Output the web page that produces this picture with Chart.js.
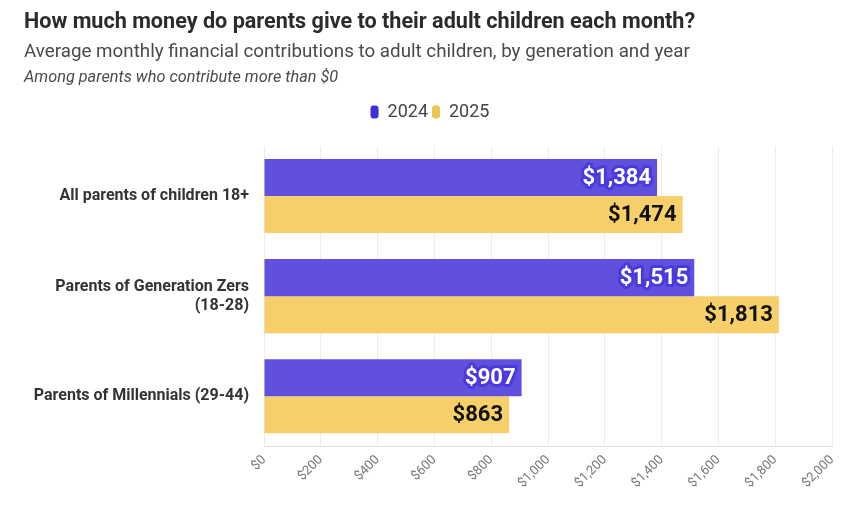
<!DOCTYPE html>
<html>
<head>
<meta charset="utf-8">
<script src="https://cdn.jsdelivr.net/npm/chart.js@4"></script>
<style>
  html, body { margin: 0; padding: 0; background: #fff; }
  #wrap { position: relative; width: 863px; height: 505px; overflow: hidden; }
  #c { position: absolute; left: 0; top: 0; }
  .t { position: absolute; left: 24px; white-space: nowrap; font-family: Roboto, "Noto Sans", sans-serif; }
  #title { top: 8px; font-size: 21.6px; font-weight: bold; color: #2b2b2b; }
  #sub { top: 40px; font-size: 18.8px; color: #4a4a4a; }
  #note { top: 67px; font-size: 16.3px; font-style: italic; color: #4a4a4a; }
</style>
</head>
<body>
<div id="wrap">
  <canvas id="c" width="863" height="505"></canvas>
  <div class="t" id="title">How much money do parents give to their adult children each month?</div>
  <div class="t" id="sub">Average monthly financial contributions to adult children, by generation and year</div>
  <div class="t" id="note">Among parents who contribute more than $0</div>
</div>
<script>
const categories = [
  "All parents of children 18+",
  ["Parents of Generation Zers", "(18-28)"],
  "Parents of Millennials (29-44)"
];
const seriesNames = ["2024", "2025"];
const values2024 = [1384, 1515, 907];
const values2025 = [1474, 1813, 863];
const xTickMax = 2000;
const xTickStep = 200;

const barColors = ["#6150DE", "#F6CF6A"];
const legendColors = ["#3F30D2", "#EBC84F"];
const labelColors = ["#ffffff", "#111111"];
const haloColors = ["#4A3ADB", "rgba(246,207,106,0.9)"];

const fmt = v => "$" + v.toLocaleString("en-US");

const valueLabels = {
  id: "valueLabels",
  afterDatasetsDraw(chart) {
    const ctx = chart.ctx;
    chart.data.datasets.forEach((ds, di) => {
      const meta = chart.getDatasetMeta(di);
      meta.data.forEach((bar, i) => {
        const txt = fmt(ds.data[i]);
        ctx.save();
        ctx.font = "bold 22px Roboto, 'Noto Sans', sans-serif";
        ctx.textAlign = "right";
        ctx.textBaseline = "middle";
        ctx.lineJoin = "round";
        const x = bar.x - 6, y = bar.y + 1;
        ctx.lineWidth = 6;
        ctx.strokeStyle = haloColors[di];
        ctx.strokeText(txt, x, y);
        ctx.fillStyle = labelColors[di];
        ctx.fillText(txt, x, y);
        ctx.restore();
      });
    });
  }
};

const legendGap = {
  id: "legendGap",
  afterInit(chart) {
    const lg = chart.legend;
    if (!lg) return;
    const orig = lg.fit;
    lg.fit = function () { orig.call(this); this.height += 15; };
  }
};

new Chart(document.getElementById("c"), {
  type: "bar",
  data: {
    labels: categories,
    datasets: [
      { label: seriesNames[0], data: values2024, backgroundColor: barColors[0] },
      { label: seriesNames[1], data: values2025, backgroundColor: barColors[1] }
    ]
  },
  options: {
    indexAxis: "y",
    responsive: false,
    animation: false,
    devicePixelRatio: 1,
    categoryPercentage: 0.74,
    barPercentage: 1.0,
    layout: { padding: { top: 99, right: 31, left: 28, bottom: 8 } },
    plugins: {
      legend: {
        display: true,
        position: "top",
        labels: {
          generateLabels(chart) {
            return chart.data.datasets.map((ds, i) => ({
              text: ds.label,
              fillStyle: legendColors[i],
              strokeStyle: legendColors[i],
              lineWidth: 0,
              borderRadius: 3,
              datasetIndex: i,
              fontColor: "#444"
            }));
          },
          useBorderRadius: true,
          borderRadius: 3,
          boxWidth: 8,
          boxHeight: 13,
          padding: 4,
          color: "#444",
          font: { family: "Roboto, 'Noto Sans', sans-serif", size: 18 }
        }
      },
      tooltip: { enabled: false }
    },
    scales: {
      x: {
        min: 0,
        max: xTickMax,
        ticks: {
          stepSize: xTickStep,
          minRotation: 45,
          maxRotation: 45,
          padding: 6,
          color: "#777",
          font: { family: "Roboto, 'Noto Sans', sans-serif", size: 13 },
          callback: v => fmt(v)
        },
        grid: { color: "#ececec", drawTicks: false },
        border: { display: true, color: "#e2e2e2" }
      },
      y: {
        afterFit(scale) { scale.width = 236; },
        ticks: {
          color: "#333",
          padding: 7,
          font: { family: "Roboto, 'Noto Sans', sans-serif", size: 16, weight: "bold" }
        },
        grid: { display: false },
        border: { display: false }
      }
    }
  },
  plugins: [valueLabels, legendGap]
});
</script>
</body>
</html>
